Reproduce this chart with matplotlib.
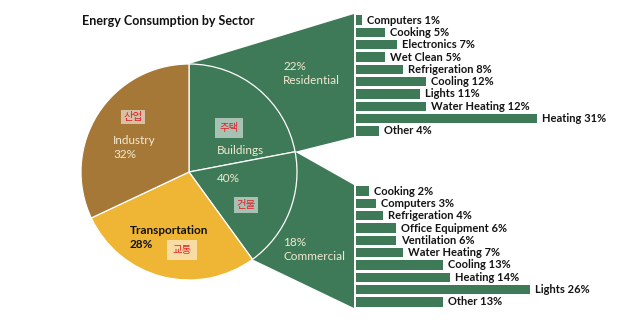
import matplotlib
matplotlib.use("Agg")
import matplotlib.pyplot as plt
from matplotlib.patches import Polygon
import numpy as np

# pie data
sectors = ["Residential", "Commercial", "Transportation", "Industry"]
shares = [22, 18, 28, 32]

# residential breakdown
res_uses = ["Computers", "Cooking", "Electronics", "Wet Clean", "Refrigeration",
            "Cooling", "Lights", "Water Heating", "Heating", "Other"]
res_pct = [1, 5, 7, 5, 8, 12, 11, 12, 31, 4]

# commercial breakdown
com_uses = ["Cooking", "Computers", "Refrigeration", "Office Equipment", "Ventilation",
            "Water Heating", "Cooling", "Heating", "Lights", "Other"]
com_pct = [2, 3, 4, 6, 6, 7, 13, 14, 26, 13]

GREEN = "#3e7a58"
BROWN = "#a57838"
YELLOW = "#efb534"
CREAM = "#f2ead0"
KRED = "#e3202b"

W, H = 624, 325
plt.rcParams["font.family"] = ["Lato", "DejaVu Sans"]

fig = plt.figure(figsize=(W / 100, H / 100), dpi=100)
ax = fig.add_axes([0, 0, 1, 1])

cx, cy, r = 189, H - 172, 108
wedges, _ = ax.pie(shares, colors=[GREEN, GREEN, YELLOW, BROWN], startangle=90,
                   counterclock=False, center=(cx, cy), radius=r,
                   wedgeprops=dict(edgecolor="white", linewidth=0.9))
for w in wedges:
    w.set_zorder(3)
ax.set_xlim(0, W)
ax.set_ylim(0, H)
ax.set_aspect("equal")
ax.axis("off")


def on_circle(angle):
    a = np.deg2rad(angle)
    return cx + r * np.cos(a), cy + r * np.sin(a)


# bar panels (pixel boxes: top, bottom, px per %)
panels = [
    (res_uses, res_pct, 14, 137, 5.84),
    (com_uses, com_pct, 185, 308, 6.7),
]
bar_left = 356

for i, (uses, pct, top, bottom, scale) in enumerate(panels):
    w = wedges[i]
    p_start = on_circle(w.theta2)
    p_end = on_circle(w.theta1)
    fan = Polygon([p_start, (bar_left - 2, H - top), (bar_left - 2, H - bottom), p_end],
                  closed=True, facecolor=GREEN, edgecolor="none", zorder=1)
    ax.add_patch(fan)

    bx = fig.add_axes([bar_left / W, 1 - bottom / H, (W - bar_left) / W, (bottom - top) / H])
    y = np.arange(len(uses))
    bx.barh(y, pct, height=0.76, color=GREEN)
    bx.set_xlim(0, (W - bar_left) / scale)
    bx.set_ylim(len(uses) - 0.5, -0.5)
    bx.axis("off")
    for yy, name, v in zip(y, uses, pct):
        bx.annotate(f"{name} {v}%", (v, yy), xytext=(3.5, 0), textcoords="offset points",
                    va="center", ha="left", fontsize=8, fontweight="bold", color="#141414")


def label(x, y, s, **kw):
    ax.text(x, H - y, s, va="center", ha="left", zorder=5, **kw)


label(113, 141, "Industry", fontsize=8.5, color=CREAM)
label(113, 155, "32%", fontsize=8.5, color=CREAM)
label(217, 150, "Buildings", fontsize=8.5, color=CREAM)
label(217, 179, "40%", fontsize=8.5, color=CREAM)
label(130, 230, "Transportation", fontsize=8.5, color="#111111", fontweight="bold")
label(130, 244, "28%", fontsize=8.5, color="#111111", fontweight="bold")
label(283, 67, "22%", fontsize=8.5, color=CREAM)
label(283, 81, "Residential", fontsize=8.5, color=CREAM)
label(283, 242, "18%", fontsize=8.5, color=CREAM)
label(283, 257, "Commercial", fontsize=8.5, color=CREAM)

# korean tags
for x, y, s, padx in [(133, 117, "산업", 0.2), (229, 128, "주택", 0.45),
                      (246, 205, "건물", 0.25), (182, 250, "교통", 0.5)]:
    ax.text(x, H - y, s, ha="center", va="center", fontsize=7.5, color=KRED,
            family=["Noto Sans CJK KR", "DejaVu Sans"], zorder=6,
            bbox=dict(boxstyle=f"square,pad={padx}", facecolor="white", alpha=0.55,
                      edgecolor="none"))

fig.text(82 / W, 1 - 21 / H, "Energy Consumption by Sector", fontsize=9,
         fontweight="bold", color="#111111", va="center", ha="left")

fig.savefig("out.png", dpi=100)
